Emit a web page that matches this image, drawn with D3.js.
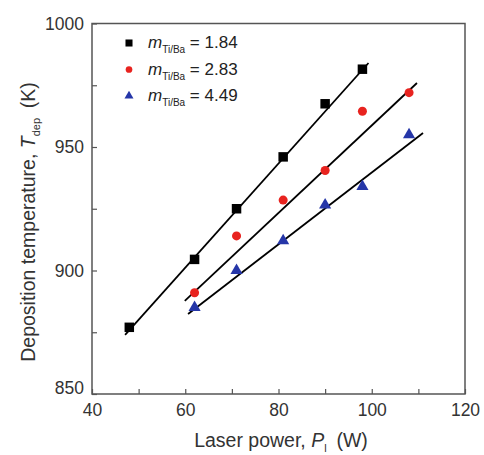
<!DOCTYPE html>
<html>
<head>
<meta charset="utf-8">
<script src="https://cdn.jsdelivr.net/npm/d3@7"></script>
<style>
  body { margin: 0; background: #fff; }
  text { font-family: Arial, "Liberation Sans", sans-serif; }
</style>
</head>
<body>
<div id="chart"></div>
<script>
// data
const powers1 = [48, 62, 71, 81, 90, 98];
const temps1 = [877, 904.5, 925, 946, 967.5, 981.5];
const powers2 = [62, 71, 81, 90, 98, 108];
const temps2 = [891, 914, 928.5, 940.5, 964.5, 972];
const powers3 = [62, 71, 81, 90, 98, 108];
const temps3 = [885, 900, 912, 926.5, 934, 955];
const ratios = ["1.84", "2.83", "4.49"];
// fitted lines, end points
const fit1 = [[47.1, 873.9], [99.3, 984]];
const fit2 = [[59.9, 887.7], [109.7, 975.9]];
const fit3 = [[60.6, 882.4], [111, 955.7]];
const xTicks = [40, 60, 80, 100, 120];
const yTicks = [850, 900, 950, 1000];

const width = 484, height = 455;
const margin = { top: 23.5, right: 19, bottom: 61, left: 92 };
const w = width - margin.left - margin.right;
const h = height - margin.top - margin.bottom;

const svg = d3.select("#chart").append("svg")
    .attr("width", width)
    .attr("height", height);

const g = svg.append("g")
    .attr("transform", `translate(${margin.left},${margin.top})`);

const x = d3.scaleLinear().domain([40, 120]).range([0, w]);
const y = d3.scaleLinear().domain([850, 1000]).range([h, 0]);

const axisColor = "#555";
const labelColor = "#333";

// frame
g.append("rect")
    .attr("width", w)
    .attr("height", h)
    .attr("fill", "none")
    .attr("stroke", axisColor)
    .attr("stroke-width", 1.5);

// minor ticks (inward)
g.append("g")
    .attr("transform", `translate(0,${h})`)
    .call(d3.axisBottom(x).tickValues(d3.range(40, 121, 10)).tickSize(-5).tickFormat(""))
    .call(a => a.select(".domain").remove())
    .call(a => a.selectAll("line").attr("stroke", axisColor).attr("stroke-width", 1.2));

g.append("g")
    .call(d3.axisLeft(y).tickValues(d3.range(850, 1001, 25)).tickSize(-5).tickFormat(""))
    .call(a => a.select(".domain").remove())
    .call(a => a.selectAll("line").attr("stroke", axisColor).attr("stroke-width", 1.2));

// tick labels
g.append("g")
    .attr("transform", `translate(0,${h})`)
    .call(d3.axisBottom(x).tickValues(xTicks).tickSize(0).tickPadding(10).tickFormat(d3.format("d")))
    .call(a => a.select(".domain").remove())
    .call(a => a.selectAll("text")
        .attr("fill", labelColor)
        .style("font-size", "17.5px"));

g.append("g")
    .call(d3.axisLeft(y).tickValues(yTicks).tickSize(0).tickPadding(8).tickFormat(d3.format("d")))
    .call(a => a.select(".domain").remove())
    .call(a => a.selectAll("text")
        .attr("fill", labelColor)
        .style("font-size", "17.5px"));

// shift 850 label up a bit, like the original
g.selectAll("text").filter(function () { return d3.select(this).text() === "850"; })
    .attr("dy", "-0.05em");

// axis titles
const xt = svg.append("text")
    .attr("x", 281)
    .attr("y", 447)
    .attr("text-anchor", "middle")
    .attr("fill", labelColor)
    .style("font-size", "19.5px");
xt.append("tspan").text("Laser power, ");
xt.append("tspan").style("font-style", "italic").text("P");
xt.append("tspan").style("font-size", "11px").attr("dy", 5).text("l");
xt.append("tspan").attr("dy", -5).text("\u2002(W)");

const yt = svg.append("text")
    .attr("transform", "translate(35,222) rotate(-90)")
    .attr("text-anchor", "middle")
    .attr("fill", labelColor)
    .style("font-size", "19.5px");
yt.append("tspan").text("Deposition temperature, ");
yt.append("tspan").style("font-style", "italic").text("T");
yt.append("tspan").style("font-size", "11px").attr("dy", 5).text("dep");
yt.append("tspan").attr("dy", -5).text("\u2002(K)");

// series
const series = [
    { xs: powers1, ys: temps1, fit: fit1, color: "#000000", symbol: d3.symbolSquare, size: 90 },
    { xs: powers2, ys: temps2, fit: fit2, color: "#e8231f", symbol: d3.symbolCircle, size: 64 },
    { xs: powers3, ys: temps3, fit: fit3, color: "#2536a8", symbol: d3.symbolTriangle, size: 64 }
];

const line = d3.line().x(d => x(d[0])).y(d => y(d[1]));

series.forEach(s => {
    g.append("path")
        .datum(s.fit)
        .attr("d", line)
        .attr("fill", "none")
        .attr("stroke", "#000")
        .attr("stroke-width", 1.8);
});

series.forEach(s => {
    g.append("g").selectAll("path")
        .data(s.xs.map((v, i) => [v, s.ys[i]]))
        .join("path")
        .attr("transform", d => `translate(${x(d[0])},${y(d[1])})`)
        .attr("d", d3.symbol().type(s.symbol).size(s.size))
        .attr("fill", s.color);
});

// legend
const legend = svg.append("g");
series.forEach((s, i) => {
    const ly = 43 + i * 26.5;
    legend.append("path")
        .attr("transform", `translate(129,${ly})`)
        .attr("d", d3.symbol().type(s.symbol).size(s.size * 0.55))
        .attr("fill", s.color);
    const t = legend.append("text")
        .attr("x", 148)
        .attr("y", ly + 5)
        .attr("fill", "#222")
        .style("font-size", "17px");
    t.append("tspan").style("font-style", "italic").text("m");
    t.append("tspan").style("font-size", "10px").attr("dy", 5).text("Ti/Ba");
    t.append("tspan").attr("dy", -5).text(" = " + ratios[i]);
});
</script>
</body>
</html>
